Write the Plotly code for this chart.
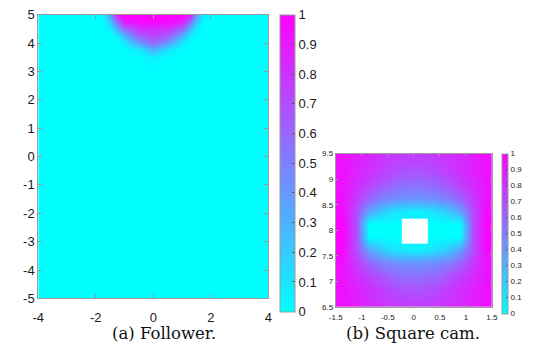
import plotly.graph_objects as go

nan = None

# ---- Left panel: Follower ----
xl = [-4, -2, -1.75, -1.5, -1.25, -1, -0.5, 0, 0.5, 1, 1.25, 1.5, 1.75, 2, 4]
yl = [-5, 3, 3.5, 3.75, 4, 4.25, 4.5, 4.75, 5]
zl = [
    [0, 0, 0, 0, 0, 0, 0, 0, 0, 0, 0, 0, 0, 0, 0],
    [0, 0, 0, 0, 0, 0, 0, 0, 0, 0, 0, 0, 0, 0, 0],
    [0, 0, 0, 0, 0, 0, 0, 0.05, 0, 0, 0, 0, 0, 0, 0],
    [0, 0, 0, 0, 0, 0, 0.08, 0.3, 0.08, 0, 0, 0, 0, 0, 0],
    [0, 0, 0, 0, 0, 0.08, 0.4, 0.6, 0.4, 0.08, 0, 0, 0, 0, 0],
    [0, 0, 0, 0, 0.08, 0.3, 0.64, 0.72, 0.64, 0.3, 0.08, 0, 0, 0, 0],
    [0, 0, 0, 0.06, 0.32, 0.6, 0.8, 0.83, 0.8, 0.6, 0.32, 0.06, 0, 0, 0],
    [0, 0, 0.02, 0.22, 0.6, 0.88, 0.97, 0.97, 0.97, 0.88, 0.6, 0.22, 0.02, 0, 0],
    [0, 0, 0.05, 0.4, 0.92, 1, 1, 1, 1, 1, 0.92, 0.4, 0.05, 0, 0],
]

# ---- Right panel: Square cam ----
xr = [-1.625, -1.375, -1.125, -0.875, -0.625, -0.375, -0.125,
      0.125, 0.375, 0.625, 0.875, 1.125, 1.375, 1.625]
yr = [6.375, 6.625, 6.875, 7.125, 7.375, 7.625, 7.875,
      8.125, 8.375, 8.625, 8.875, 9.125, 9.375, 9.625]
d1625 = [0.98, 0.95, 0.91, 0.87, 0.84, 0.81, 0.80, 0.80, 0.81, 0.84, 0.87, 0.91, 0.95, 0.98]
d1375 = [0.97, 0.93, 0.88, 0.83, 0.79, 0.75, 0.74, 0.74, 0.75, 0.79, 0.83, 0.88, 0.93, 0.97]
d1125 = [0.97, 0.93, 0.87, 0.81, 0.75, 0.69, 0.66, 0.66, 0.69, 0.75, 0.81, 0.87, 0.93, 0.97]
d0875 = [0.97, 0.92, 0.83, 0.74, 0.65, 0.58, 0.55, 0.55, 0.58, 0.65, 0.74, 0.83, 0.92, 0.97]
d0625 = [0.98, 0.93, 0.78, 0.60, 0.49, 0.44, 0.42, 0.42, 0.44, 0.49, 0.60, 0.78, 0.93, 0.98]
d0375 = [0.99, 0.96, 0.70, 0.36, 0.20, 0.10, 0.06, 0.06, 0.10, 0.20, 0.36, 0.70, 0.96, 0.99]
d0125 = [1.00, 0.98, 0.70, 0.00, 0.00, 0.00, nan, nan, 0.00, 0.00, 0.00, 0.70, 0.98, 1.00]
zr = [d1625, d1375, d1125, d0875, d0625, d0375, d0125,
      d0125, d0375, d0625, d0875, d1125, d1375, d1625]

cool = [[0, "rgb(0,255,255)"], [1, "rgb(255,0,255)"]]
cb_vals = [0, 0.1, 0.2, 0.3, 0.4, 0.5, 0.6, 0.7, 0.8, 0.9, 1]
cb_text = ["0", "0.1", "0.2", "0.3", "0.4", "0.5", "0.6", "0.7", "0.8", "0.9", "1"]

W, H = 533, 363
tickfont_l = dict(family="Liberation Sans, Arial", size=13, color="#1a1a1a")
tickfont_r = dict(family="Liberation Sans, Arial", size=8, color="#1a1a1a")
capfont = dict(family="DejaVu Serif, serif", size=16.5, color="#111")
frame = "#9a9a9a"

fig = go.Figure()
fig.add_trace(go.Heatmap(
    x=xl, y=yl, z=zl, zsmooth="best", colorscale=cool, zmin=0, zmax=1,
    xaxis="x", yaxis="y", hoverinfo="skip",
    colorbar=dict(
        x=280 / W, xanchor="left", xpad=0, ypad=0,
        y=1 - 8 / H, yanchor="top", len=297, lenmode="pixels",
        thickness=15, thicknessmode="pixels",
        outlinewidth=1, outlinecolor=frame,
        tickvals=cb_vals, ticktext=cb_text,
        ticks="inside", ticklen=3, tickcolor="#555", tickfont=tickfont_l,
    ),
))
fig.add_trace(go.Heatmap(
    x=xr, y=yr, z=zr, zsmooth="best", colorscale=cool, zmin=0, zmax=1,
    xaxis="x2", yaxis="y2", hoverinfo="skip",
    colorbar=dict(
        x=507 / W, xanchor="left", xpad=0, ypad=0,
        y=1 - 153 / H, yanchor="top", len=160, lenmode="pixels",
        thickness=6, thicknessmode="pixels",
        outlinewidth=1, outlinecolor=frame,
        tickvals=cb_vals, ticktext=cb_text,
        ticks="inside", ticklen=2, tickcolor="#555", tickfont=tickfont_r,
    ),
))

axcommon = dict(showline=True, linecolor=frame, linewidth=1, mirror="ticks",
                ticks="inside", tickcolor=frame, showgrid=False, zeroline=False)

fig.update_layout(
    width=W, height=H, margin=dict(l=0, r=0, t=0, b=0),
    paper_bgcolor="white", plot_bgcolor="white",
    xaxis=dict(domain=[32 / W, 268 / W], range=[-4, 4], anchor="y",
               tickvals=[-4, -2, 0, 2, 4], ticktext=["-4", "-2", "0", "2", "4"],
               ticklen=4, ticklabelstandoff=7, tickfont=tickfont_l, **axcommon),
    yaxis=dict(domain=[1 - 304 / H, 1 - 8 / H], range=[-5, 5], anchor="x",
               tickvals=[-5, -4, -3, -2, -1, 0, 1, 2, 3, 4, 5],
               ticktext=["-5", "-4", "-3", "-2", "-1", "0", "1", "2", "3", "4", "5"],
               ticklen=4, tickfont=tickfont_l, **axcommon),
    xaxis2=dict(domain=[337 / W, 497 / W], range=[-1.5, 1.5], anchor="y2",
                tickvals=[-1.5, -1, -0.5, 0, 0.5, 1, 1.5],
                ticktext=["-1.5", "-1", "-0.5", "0", "0.5", "1", "1.5"],
                ticklen=2, ticklabelstandoff=2, tickfont=tickfont_r, **axcommon),
    yaxis2=dict(domain=[1 - 313 / H, 1 - 153 / H], range=[6.5, 9.5], anchor="x2",
                tickvals=[6.5, 7, 7.5, 8, 8.5, 9, 9.5],
                ticktext=["6.5", "7", "7.5", "8", "8.5", "9", "9.5"],
                ticklen=2, tickfont=tickfont_r, **axcommon),
    annotations=[
        dict(text="(a) Follower.", x=161 / W, y=1 - 341 / H, xref="paper", yref="paper",
             showarrow=False, xanchor="center", yanchor="middle", font=capfont),
        dict(text="(b) Square cam.", x=416 / W, y=1 - 341 / H, xref="paper", yref="paper",
             showarrow=False, xanchor="center", yanchor="middle", font=capfont),
    ],
)

fig.write_html("out.html")
